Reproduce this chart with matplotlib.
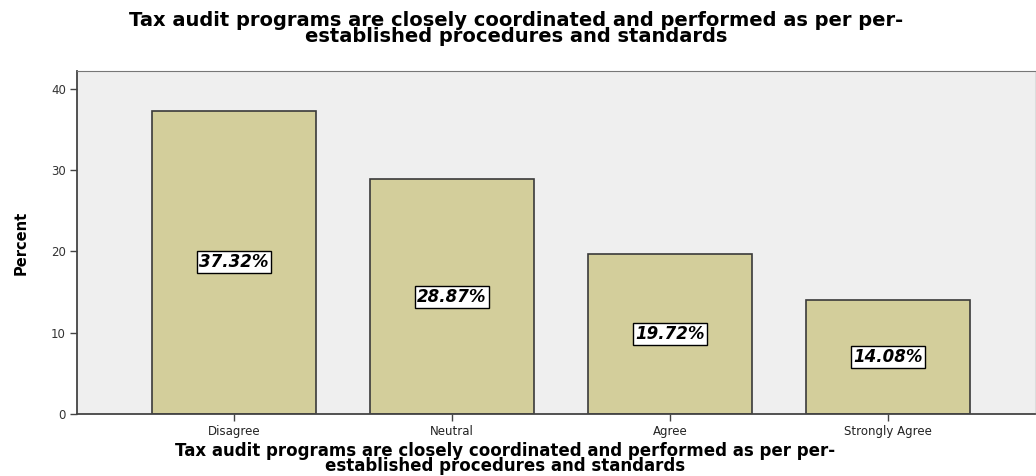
import matplotlib
matplotlib.use("Agg")
import matplotlib.pyplot as plt

categories = ["Disagree", "Neutral", "Agree", "Strongly Agree"]
percents = [37.32, 28.87, 19.72, 14.08]
y_ticks = [0, 10, 20, 30, 40]
title_text = ("Tax audit programs are closely coordinated and performed as per per-\n"
              "established procedures and standards")

W, H = 1036, 476
fig = plt.figure(figsize=(W / 100, H / 100), dpi=100)
ax = fig.add_axes([77 / W, 1 - 414 / H, (1035 - 77) / W, (414 - 71) / H])
ax.set_facecolor("#efefef")

x = list(range(len(categories)))
ax.bar(x, percents, width=0.75, color="#d3ce9b", edgecolor="#3a3a3a", linewidth=1.2, zorder=2)

for xi, p in zip(x, percents):
    ax.text(xi, p / 2, f"{p:.2f}%", ha="center", va="center", fontsize=12,
            fontweight="bold", fontstyle="italic", color="black", zorder=3,
            bbox=dict(boxstyle="square,pad=0.12", facecolor="white", edgecolor="black", linewidth=1))

ax.set_xlim(-0.72, 3.674)
ax.set_ylim(0, 42.2)
ax.set_yticks(y_ticks)
ax.set_yticklabels([str(t) for t in y_ticks], fontsize=8.5, color="#333333")
ax.set_xticks(x)
ax.set_xticklabels(categories, fontsize=8.5, color="#222222")
ax.tick_params(axis="both", direction="out", length=5, width=1, color="#444444", pad=3)

for side in ["left", "bottom"]:
    ax.spines[side].set_color("#444444")
    ax.spines[side].set_linewidth(1.3)
ax.spines["top"].set_color("#777777")
ax.spines["right"].set_color("#dddddd")

ax.set_ylabel("Percent", fontsize=10.5, fontweight="bold", family="Liberation Sans Narrow", labelpad=16)

# axis title below the category labels
fig.text(505 / W, 1 - 442 / H, title_text, ha="center", va="top", fontsize=12,
         fontweight="bold", linespacing=0.8)
# chart title
fig.text(516 / W, 1 - 11 / H, title_text, ha="center", va="top", fontsize=14,
         fontweight="bold", linespacing=0.82)

fig.savefig("out.png", dpi=100, facecolor="white")
